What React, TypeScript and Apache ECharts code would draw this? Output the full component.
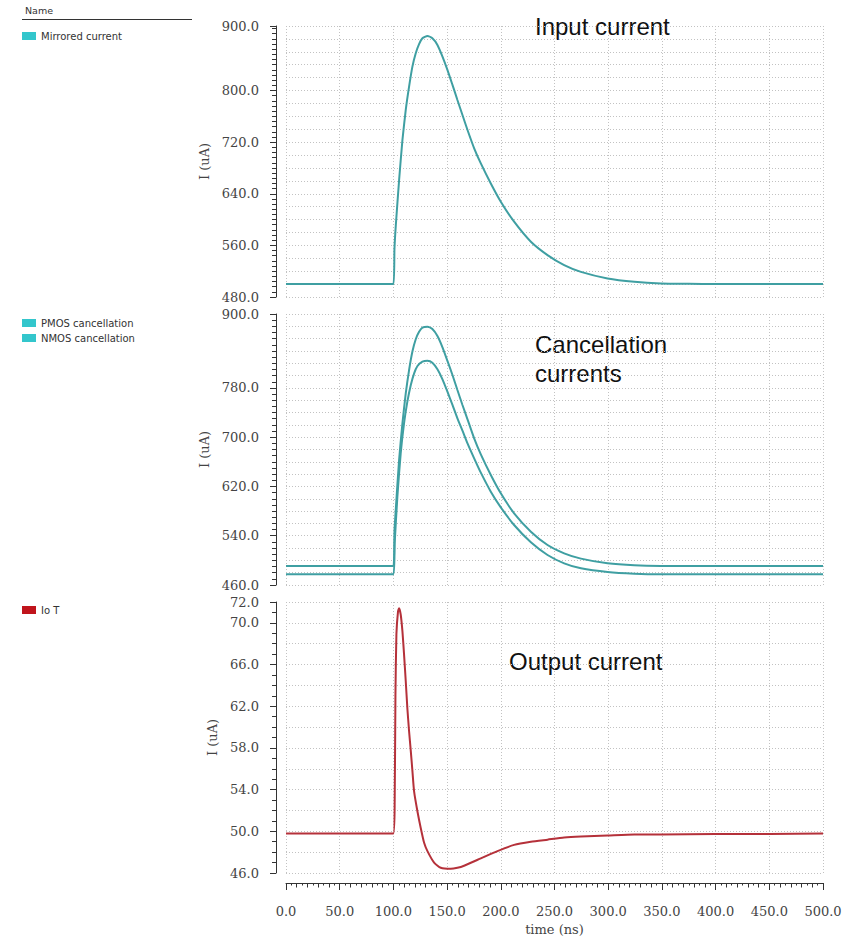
import React, { useEffect, useRef } from "react";
import * as echarts from "echarts";

// ---------- data ----------
const mirroredTime = [0, 100, 101, 102.2, 105.3, 108.4, 111.5, 114.6, 117.7, 120.8, 123.9, 127, 131.7, 136.3, 141, 145.7, 150.3, 155, 159.6, 164.3, 169, 175.2, 181.4, 190.7, 200, 212.4, 228, 243.5, 259, 274.6, 299.4, 324.3, 349.1, 375, 400, 450, 500];
const mirroredCurrent = [500, 500, 555, 590, 661, 723, 770, 806, 837, 857.8, 872, 881, 884.6, 881, 870.7, 852.6, 832, 808.7, 785.4, 762, 738.8, 710.4, 687, 656, 627.7, 596.7, 565.7, 545, 529.5, 519, 508.8, 503.6, 501, 500.4, 500.1, 500, 500];

const pmosTime = [0, 100, 101, 102.2, 105.3, 108.4, 111.5, 114.6, 117.7, 120.8, 123.9, 127, 131.7, 136.3, 141, 145.7, 150.3, 155, 159.6, 164.3, 169, 175.2, 181.4, 190.7, 200, 212.4, 228, 243.5, 259, 274.6, 299.4, 324.3, 349.1, 400, 500];
const pmosCurrent = [491, 491, 548, 582, 663, 722.5, 771, 809, 839, 859, 871, 878, 879.4, 875.7, 864.3, 846, 824, 801, 776.6, 752.3, 729, 698, 672, 638.6, 608.8, 576.4, 546.6, 525, 511.4, 502.8, 495.2, 491.9, 491, 491, 491];

const nmosTime = [0, 100, 101.2, 103.7, 106.8, 109.9, 113, 116.2, 119.3, 122.4, 127, 131.7, 136.3, 141, 145.7, 150.3, 155, 159.6, 164.3, 169, 175.2, 181.4, 190.7, 200, 212.4, 228, 243.5, 259, 274.6, 299.4, 324.3, 349.1, 400, 500];
const nmosCurrent = [477.5, 477.5, 527.7, 603.4, 673.8, 722.5, 757.7, 784.7, 803.7, 815.6, 822.6, 824.2, 821, 810.2, 793.9, 773.9, 752.3, 730.6, 710.6, 690, 665.7, 642.4, 611.5, 586.1, 557.4, 529.3, 508.7, 495.2, 487.1, 481.1, 478.4, 477.5, 477.5, 477.5];

const ioTime = [0, 100, 101.2, 101.9, 102.8, 104.3, 105.3, 106.8, 108.4, 109.9, 111.5, 113, 114.6, 116.2, 117.7, 119.3, 122.4, 125.5, 128.6, 131.7, 137.9, 144.1, 153.4, 159.6, 165.8, 181.4, 196.9, 212.4, 228, 243.5, 259, 274.6, 299.4, 324.3, 349.1, 400, 450, 500];
const ioCurrent = [49.8, 49.8, 52.9, 63.1, 68.9, 71.1, 71.4, 70.8, 69.2, 67, 64.4, 61.8, 59.6, 57.7, 55.8, 53.8, 51.9, 50.3, 48.9, 48.1, 47, 46.5, 46.4, 46.5, 46.7, 47.4, 48.1, 48.7, 49, 49.2, 49.4, 49.5, 49.6, 49.7, 49.7, 49.75, 49.75, 49.8];

const seriesNames = ["Mirrored current", "PMOS cancellation", "NMOS cancellation", "Io T"];
const annotationTexts = ["Input current", "Cancellation\ncurrents", "Output current"];

const topYLabels = [480, 560, 640, 720, 800, 900];
const midYLabels = [460, 540, 620, 700, 780, 900];
const botYLabels = [46, 50, 54, 58, 62, 66, 70, 72];

const yAxisTitle = "I (uA)";
const xAxisTitle = "time (ns)";
const legendHeader = "Name";

// ---------- styles ----------
const SERIF = "'DejaVu Serif', serif";
const SANS = "'DejaVu Sans', sans-serif";
const ANNOT = "'Liberation Sans', Arial, sans-serif";
const TEAL = "#3f9fa2";
const TEAL_SWATCH = "#33c6cc";
const RED = "#b5313a";
const RED_SWATCH = "#c0141c";
const AXIS = "#333";
const LABEL = "#444";
const GRIDC = "#c2c2c2";

const pairs = (t: number[], v: number[]) => t.map((x, i) => [x, v[i]]);

const splitStyle = { show: true, lineStyle: { color: GRIDC, type: [1, 2] as any, width: 1 } };

function mainY(gridIndex: number, min: number, max: number, labels: number[]) {
  return {
    type: "value", gridIndex, position: "left", offset: 10, min, max,
    name: yAxisTitle, nameLocation: "middle", nameGap: 55, nameRotate: 90,
    nameTextStyle: { fontFamily: SERIF, fontSize: 13, color: LABEL },
    axisLine: { show: true, onZero: false, lineStyle: { color: AXIS, width: 1 } },
    axisTick: { show: true, length: 6, customValues: labels, lineStyle: { color: AXIS } },
    axisLabel: {
      show: true, customValues: labels, margin: 17, fontFamily: SERIF, fontSize: 13, color: LABEL,
      formatter: (v: number) => Number(v).toFixed(1),
    },
    splitLine: { show: false },
  };
}
function minorY(gridIndex: number, min: number, max: number, step: number) {
  return {
    type: "value", gridIndex, position: "left", offset: 10, min, max, interval: step,
    axisLine: { show: false, onZero: false }, axisTick: { show: true, length: 4, lineStyle: { color: AXIS } },
    axisLabel: { show: false }, splitLine: { show: false },
  };
}
function gridY(gridIndex: number, min: number, max: number, step: number) {
  return {
    type: "value", gridIndex, position: "left", min, max, interval: step,
    axisLine: { show: false, onZero: false }, axisTick: { show: false }, axisLabel: { show: false },
    splitLine: splitStyle,
  };
}
function gridX(gridIndex: number) {
  return {
    type: "value", gridIndex, position: "bottom", min: 0, max: 500, interval: 50,
    axisLine: { show: false, onZero: false }, axisTick: { show: false }, axisLabel: { show: false },
    splitLine: splitStyle,
  };
}

export default function App() {
  const ref = useRef<HTMLDivElement>(null);
  useEffect(() => {
    if (!ref.current) return;
    const chart = echarts.init(ref.current, undefined, { renderer: "svg" });
    const lineSeries = (name: string, xi: number, yi: number, data: number[][], color: string) => ({
      name, type: "line", xAxisIndex: xi, yAxisIndex: yi, data, showSymbol: false, symbol: "none",
      smooth: 0.2, lineStyle: { color, width: 2 }, itemStyle: { color }, silent: true,
    });
    const legendBase = {
      orient: "vertical", left: 22, icon: "rect", itemWidth: 14, itemHeight: 8, itemGap: 5,
      selectedMode: false, padding: 0,
      textStyle: { fontFamily: SANS, fontSize: 10, color: "#333" },
    };
    chart.setOption({
      animation: false,
      backgroundColor: "#fff",
      grid: [
        { left: 286, right: 30, top: 26, height: 271 },
        { left: 286, right: 30, top: 314, height: 271 },
        { left: 286, right: 30, top: 602, height: 271 },
      ],
      xAxis: [
        gridX(0),
        gridX(1),
        {
          type: "value", gridIndex: 2, position: "bottom", offset: 10, min: 0, max: 500, interval: 50,
          name: xAxisTitle, nameLocation: "middle", nameGap: 40,
          nameTextStyle: { fontFamily: SERIF, fontSize: 13, color: LABEL },
          axisLine: { show: true, onZero: false, lineStyle: { color: AXIS, width: 1 } },
          axisTick: { show: true, length: 7, lineStyle: { color: AXIS } },
          axisLabel: { show: true, margin: 22, fontFamily: SERIF, fontSize: 13, color: LABEL, formatter: (v: number) => Number(v).toFixed(1) },
          splitLine: splitStyle,
        },
        {
          type: "value", gridIndex: 2, position: "bottom", offset: 10, min: 0, max: 500, interval: 10,
          axisLine: { show: false, onZero: false },
          axisTick: { show: true, length: 4.5, lineStyle: { color: AXIS } },
          minorTick: { show: true, splitNumber: 2, length: 2.5, lineStyle: { color: AXIS } },
          axisLabel: { show: false }, splitLine: { show: false },
        },
      ],
      yAxis: [
        mainY(0, 480, 900, topYLabels),
        mainY(1, 460, 900, midYLabels),
        mainY(2, 46, 72, botYLabels),
        minorY(0, 480, 900, 8),
        minorY(1, 460, 900, 10),
        minorY(2, 46, 72, 1),
        gridY(0, 480, 900, 20),
        gridY(1, 460, 900, 20),
        gridY(2, 46, 72, 2),
      ],
      legend: [
        { ...legendBase, top: 31, data: [{ name: seriesNames[0], itemStyle: { color: TEAL_SWATCH } }] },
        { ...legendBase, top: 318, data: [{ name: seriesNames[1], itemStyle: { color: TEAL_SWATCH } }, { name: seriesNames[2], itemStyle: { color: TEAL_SWATCH } }] },
        { ...legendBase, top: 605, data: [{ name: seriesNames[3], itemStyle: { color: RED_SWATCH } }] },
      ],
      graphic: [
        { type: "text", x: 25, y: 10, style: { text: legendHeader, font: `9.5px ${SANS}`, fill: "#333", verticalAlign: "middle" } },
        { type: "line", shape: { x1: 22, y1: 19.5, x2: 192, y2: 19.5 }, style: { stroke: "#333", lineWidth: 1 } },
        { type: "text", x: 535, y: 26, style: { text: annotationTexts[0], font: `24px ${ANNOT}`, fill: "#111", verticalAlign: "middle" } },
        { type: "text", x: 535, y: 330, style: { text: annotationTexts[1], font: `24px ${ANNOT}`, fill: "#111", verticalAlign: "top", lineHeight: 29 } },
        { type: "text", x: 509, y: 661, style: { text: annotationTexts[2], font: `24px ${ANNOT}`, fill: "#111", verticalAlign: "middle" } },
      ],
      series: [
        lineSeries(seriesNames[0], 0, 0, pairs(mirroredTime, mirroredCurrent), TEAL),
        lineSeries(seriesNames[1], 1, 1, pairs(pmosTime, pmosCurrent), TEAL),
        lineSeries(seriesNames[2], 1, 1, pairs(nmosTime, nmosCurrent), TEAL),
        lineSeries(seriesNames[3], 2, 2, pairs(ioTime, ioCurrent), RED),
      ],
    });
    return () => chart.dispose();
  }, []);
  return <div ref={ref} style={{ position: "fixed", left: 0, top: 0, width: 853, height: 939 }} />;
}
